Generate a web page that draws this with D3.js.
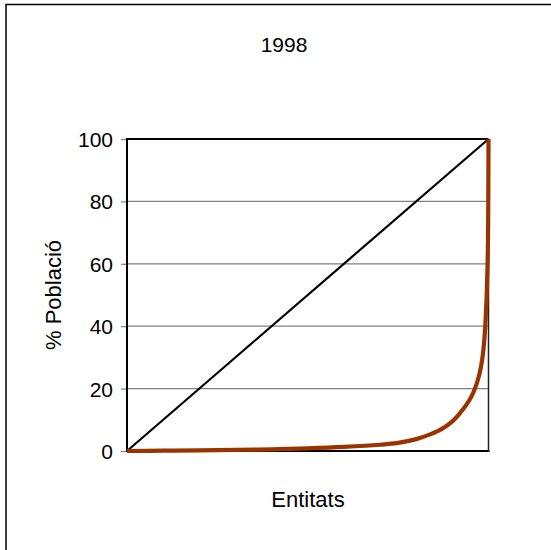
<!DOCTYPE html>
<html><head><meta charset="utf-8">
<script src="https://cdn.jsdelivr.net/npm/d3@7"></script>
<style>body{margin:0;background:#fff}svg{display:block}text{font-family:Arial,"Liberation Sans",sans-serif;fill:#000}</style>
</head><body><svg id="c" width="551" height="550"></svg>
<script>
const title = "1998";
const yTicks = [0, 20, 40, 60, 80, 100];
const xLabel = "Entitats";
const yLabel = "% Població";
// Lorenz curve: cumulative % entities vs cumulative % population
const curveX = [0, 10, 20, 30, 40, 50, 60, 70, 75, 80, 84, 87, 90, 92, 94, 95.5, 96.5, 97.3, 98.0, 98.5, 98.9, 99.2, 99.5, 99.75, 99.9, 100];
const curveY = [0, 0.1, 0.2, 0.35, 0.55, 0.85, 1.3, 2.0, 2.6, 3.8, 5.4, 7.0, 9.5, 12.0, 15.0, 18.0, 20.8, 23.8, 27.5, 31.5, 36.5, 42, 50, 60, 72, 100];
const equalityX = [0, 100];
const equalityY = [0, 100];

const svg = d3.select("#c");
const L = 127, R = 488.5, T = 139, B = 451;
const x = d3.scaleLinear().domain([0, 100]).range([L, R]);
const y = d3.scaleLinear().domain([0, 100]).range([B, T]);

// outer frame
svg.append("rect").attr("x", 6).attr("y", 4.5).attr("width", 560).attr("height", 560)
  .attr("fill", "none").attr("stroke", "#000").attr("stroke-width", 1.5);

// gridlines
svg.append("g").selectAll("line").data(yTicks.filter(d => d > 0 && d < 100)).join("line")
  .attr("x1", L).attr("x2", R).attr("y1", d => y(d)).attr("y2", d => y(d))
  .attr("stroke", "#808080").attr("stroke-width", 1.2);

// y axis
const ya = svg.append("g").attr("transform", `translate(${L},0)`)
  .call(d3.axisLeft(y).tickValues(yTicks).tickSize(6).tickPadding(8).tickFormat(d3.format("d")));
ya.select(".domain").remove();
ya.selectAll(".tick line").attr("stroke", "#808080").attr("stroke-width", 1.2);
ya.selectAll(".tick text").style("font-size", "21px").attr("font-family", "Arial, 'Liberation Sans', sans-serif").attr("dy", "0.36em");

// plot border
svg.append("line").attr("x1", L).attr("x2", R).attr("y1", T).attr("y2", T).attr("stroke", "#000").attr("stroke-width", 2);
svg.append("line").attr("x1", L).attr("x2", R + 1).attr("y1", B).attr("y2", B).attr("stroke", "#000").attr("stroke-width", 2);
svg.append("line").attr("x1", L).attr("x2", L).attr("y1", T - 1).attr("y2", B + 1).attr("stroke", "#000").attr("stroke-width", 2);
svg.append("line").attr("x1", R).attr("x2", R).attr("y1", T).attr("y2", B + 1).attr("stroke", "#222").attr("stroke-width", 1.5);

// equality line
svg.append("path").datum(equalityX.map((v, i) => [v, equalityY[i]]))
  .attr("d", d3.line().x(d => x(d[0])).y(d => y(d[1])))
  .attr("fill", "none").attr("stroke", "#000").attr("stroke-width", 2.2);

// Lorenz curve
svg.append("path").datum(curveX.map((v, i) => [v, curveY[i]]))
  .attr("d", d3.line().x(d => x(d[0])).y(d => y(d[1])).curve(d3.curveCatmullRom.alpha(0.5)))
  .attr("fill", "none").attr("stroke", "#993300").attr("stroke-width", 4.2).attr("stroke-linejoin", "round");

// titles
svg.append("text").attr("x", 284).attr("y", 52).attr("text-anchor", "middle").style("font-size", "21px").text(title);
svg.append("text").attr("x", 308).attr("y", 507).attr("text-anchor", "middle").style("font-size", "22px").text(xLabel);
svg.append("text").attr("transform", `translate(61,295) rotate(-90)`).attr("text-anchor", "middle").style("font-size", "22px").text(yLabel);
</script></body></html>
